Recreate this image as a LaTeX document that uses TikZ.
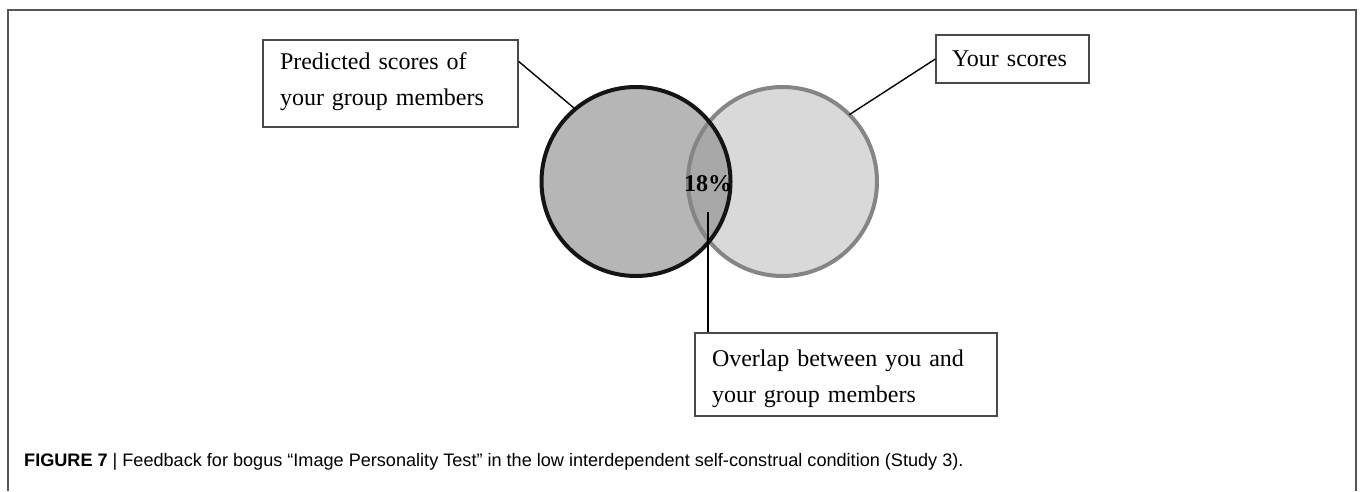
\documentclass[tikz,border=0pt]{standalone}
\usepackage{fontspec}
\setmainfont{Liberation Serif}
\newfontfamily\capfont{Liberation Sans}
\usetikzlibrary{calc}
\definecolor{leftfill}{HTML}{B6B6B6}
\definecolor{rightfill}{HTML}{D9D9D9}
\definecolor{overfill}{HTML}{A8A8A8}
\definecolor{leftedge}{HTML}{141414}
\definecolor{rightedge}{HTML}{858585}
\definecolor{boxedge}{HTML}{4A4A4A}
\definecolor{frameedge}{HTML}{555555}
\tikzset{
  labelbox/.style={draw=boxedge, line width=1.3pt, rectangle, align=left,
    inner ysep=0pt, font=\fontsize{24pt}{36pt}\selectfont},
  venn/.style={circle, inner sep=0pt, outer sep=0pt, minimum size=189pt, draw=none},
  conn/.style={draw=black, line width=1.4pt},
}
\begin{document}
\begin{tikzpicture}[x=1pt, y=-1pt]
\useasboundingbox (0,0) rectangle (1360,491);
% frame
\draw[frameedge, line width=1.8pt] (8,491) -- (8,10) -- (1356,10) -- (1356,491);

% circles
\node[venn, fill=leftfill] (cl) at (636,181.5) {};
\node[venn, fill=rightfill] (cr) at (782.5,181.5) {};
\begin{scope}
  \clip (cl.center) circle[radius=94.5];
  \fill[overfill] (cr.center) circle[radius=94.5];
\end{scope}
\draw[rightedge, line width=4pt] (cr.center) circle[radius=94.5];
\draw[leftedge, line width=4pt] (cl.center) circle[radius=94.5];

\node[font=\bfseries\fontsize{24pt}{28pt}\selectfont, anchor=base, inner sep=0pt] (pct) at (708,191) {18\%};

% boxes
\node[labelbox, minimum width=255pt, minimum height=87pt, text width=221pt, inner xsep=17pt] (lb) at (390.5,83.5)
  {Predicted scores of\\ your group members\rule[-9.4pt]{0pt}{0pt}};
\node[labelbox, minimum width=153pt, minimum height=48pt, text width=121pt, inner xsep=16pt] (rb) at (1012.5,59)
  {Your scores};
\node[labelbox, minimum width=302pt, minimum height=83pt, text width=268pt, inner xsep=17pt] (bb) at (846,374.5)
  {\rule{0pt}{26pt}Overlap between you and\\ your group members};

% connectors
\coordinate (ovl) at (708,212);
\draw[conn] ($(lb.north east)!0.25!(lb.south east)$) -- (cl.130);
\draw[conn] (rb.west) -- (cr.45);
\draw[conn] (ovl) -- (ovl |- bb.north);

% caption
\node[anchor=base west, inner sep=0pt, font=\capfont\fontsize{18.1pt}{21pt}\selectfont] (cap) at (24,466)
  {\textbf{FIGURE 7} | Feedback for bogus “Image Personality Test” in the low interdependent self-construal condition (Study 3).};
\end{tikzpicture}
\end{document}
